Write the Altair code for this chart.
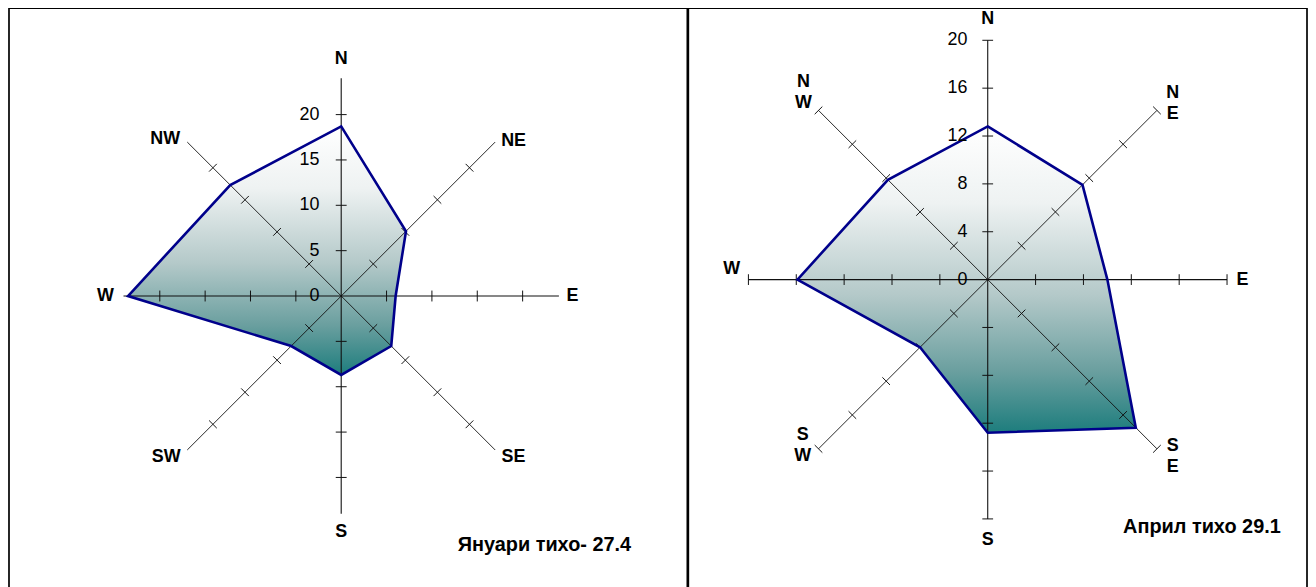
import math
import altair as alt
import pandas as pd

# ---------------- data ----------------
directions = ["N", "NE", "E", "SE", "S", "SW", "W", "NW"]
angles_deg = [0, 45, 90, 135, 180, 225, 270, 315]

jan_values = [18.7, 10.1, 6.0, 7.8, 8.7, 7.8, 23.5, 17.3]
apr_values = [12.8, 11.2, 10.0, 17.5, 12.8, 8.0, 15.9, 11.8]

jan_ticks = [5, 10, 15, 20]
jan_tick_labels = [0, 5, 10, 15, 20]
jan_axis_max = 24
jan_dir_labels = ["N", "NE", "E", "SE", "S", "SW", "W", "NW"]
jan_title = "Януари тихо- 27.4"

apr_ticks = [4, 8, 12, 16, 20]
apr_tick_labels = [0, 4, 8, 12, 16, 20]
apr_axis_max = 20
apr_dir_labels = ["N", "N\nE", "E", "S\nE", "S", "S\nW", "W", "N\nW"]
apr_title = "Април тихо 29.1"

# ---------------- layout (label anchors in axis units) ----------------
jan_label_xy = [(0, 26.1), (19.0, 17.1), (25.5, 0), (19.0, -17.8),
                (0, -26.0), (-19.3, -17.8), (-26.0, 0), (-19.4, 17.3)]
apr_label_xy = [(0, 21.75), (15.46, 15.6), (21.3, 0), (15.46, -13.9),
                (0, -21.8), (-15.46, -13.0), (-21.4, 0.9), (-15.4, 16.5)]

FONT = "Liberation Sans"
FILL = alt.Gradient(
    gradient="linear",
    stops=[
        alt.GradientStop(color="#ffffff", offset=0),
        alt.GradientStop(color="#eef2f2", offset=0.25),
        alt.GradientStop(color="#b4c9c9", offset=0.55),
        alt.GradientStop(color="#6a9f9f", offset=0.8),
        alt.GradientStop(color="#1d7d7d", offset=1),
    ],
    x1=0, x2=0, y1=0, y2=1,
)

TOP_SHIFT = 2.5  # view starts slightly above the page margin
OVERLAP = 2      # shared divider between the two panels


def polar(r, deg):
    t = math.radians(deg)
    return r * math.sin(t), r * math.cos(t)


def panel(values, axis_max, ticks, tick_labels, dir_labels, label_xy, title,
          width, height, cx, cy, ppu, tick_half, label_off,
          title_pos, title_size, num_size, dir_size, end_tick):
    xdom = [-cx / ppu, (width - cx) / ppu]
    ydom = [-(height - cy) / ppu, cy / ppu]
    X = lambda f: alt.X(f, type="quantitative",
                        scale=alt.Scale(domain=xdom, nice=False, zero=False), axis=None)
    Y = lambda f: alt.Y(f, type="quantitative",
                        scale=alt.Scale(domain=ydom, nice=False, zero=False), axis=None)

    pts = []
    for i, (v, a) in enumerate(zip(values, angles_deg)):
        x, y = polar(v, a)
        pts.append({"x": x, "y": y, "o": i})
    poly_df = pd.DataFrame(pts)

    sp = []
    for a in angles_deg:
        x2, y2 = polar(axis_max, a)
        sp.append({"x": 0, "y": 0, "x2": x2, "y2": y2,
                   "w": 1.1 if a % 90 == 0 else 0.9})
    sp_df = pd.DataFrame(sp)

    tk = []
    for a in angles_deg:
        tt = list(ticks)
        if end_tick and axis_max not in tt:
            tt.append(axis_max)
        for t in tt:
            mx, my = polar(t, a)
            px, py = polar(tick_half, a + 90)
            tk.append({"x": mx - px, "y": my - py, "x2": mx + px, "y2": my + py})
    tk_df = pd.DataFrame(tk)

    lab_df = pd.DataFrame({"x": [-label_off] * len(tick_labels),
                           "y": tick_labels,
                           "t": [str(v) for v in tick_labels]})

    dl_df = pd.DataFrame({"x": [p[0] for p in label_xy],
                          "y": [p[1] for p in label_xy],
                          "t": dir_labels})

    title_df = pd.DataFrame({"x": [title_pos[0]], "y": [title_pos[1]], "t": [title]})

    fill_layer = alt.Chart(poly_df).mark_line(
        interpolate="linear-closed", fill=FILL, strokeWidth=0, stroke="transparent"
    ).encode(x=X("x"), y=Y("y"), order="o:Q")

    spokes = alt.Chart(sp_df).mark_rule(color="#111111").encode(
        x=X("x"), y=Y("y"), x2="x2", y2="y2",
        strokeWidth=alt.StrokeWidth("w:Q", scale=None))

    tick_layer = alt.Chart(tk_df).mark_rule(color="#111111", strokeWidth=1).encode(
        x=X("x"), y=Y("y"), x2="x2", y2="y2")

    outline = alt.Chart(poly_df).mark_line(
        interpolate="linear-closed", color="#00008b", strokeWidth=2.6
    ).encode(x=X("x"), y=Y("y"), order="o:Q")

    nums = alt.Chart(lab_df).mark_text(
        align="right", baseline="middle", font=FONT, fontSize=num_size, color="#000000"
    ).encode(x=X("x"), y=Y("y"), text="t:N")

    dirs = alt.Chart(dl_df).mark_text(
        align="center", baseline="middle", font=FONT, fontSize=dir_size,
        fontWeight="bold", color="#000000", lineBreak="\n", lineHeight=21
    ).encode(x=X("x"), y=Y("y"), text="t:N")

    ttl = alt.Chart(title_df).mark_text(
        align="center", baseline="middle", font=FONT, fontSize=title_size,
        fontWeight="bold", color="#000000"
    ).encode(x=X("x"), y=Y("y"), text="t:N")

    return alt.layer(fill_layer, spokes, tick_layer, outline, nums, dirs, ttl).properties(
        width=width, height=height)


H = 583
left = panel(jan_values, jan_axis_max, jan_ticks, jan_tick_labels, jan_dir_labels,
             jan_label_xy, jan_title,
             width=682, height=H, cx=334, cy=287 + TOP_SHIFT, ppu=9.12, tick_half=0.6,
             label_off=2.4, title_pos=(22.4, -27.4),
             title_size=20, num_size=18, dir_size=18, end_tick=False)
right = panel(apr_values, apr_axis_max, apr_ticks, apr_tick_labels, apr_dir_labels,
              apr_label_xy, apr_title,
              width=620 + OVERLAP, height=H, cx=299 + OVERLAP, cy=270.5 + TOP_SHIFT,
              ppu=12.03, tick_half=0.45,
              label_off=1.7, title_pos=(17.9, -20.66),
              title_size=20, num_size=18, dir_size=18, end_tick=True)

chart = alt.hconcat(left, right, spacing=-OVERLAP).properties(
    padding={"left": 0, "top": -TOP_SHIFT, "right": 0, "bottom": 0}
).configure_view(stroke="#000000", strokeWidth=1.7)

chart.save("out.html", embed_options={"renderer": "svg", "actions": False})
